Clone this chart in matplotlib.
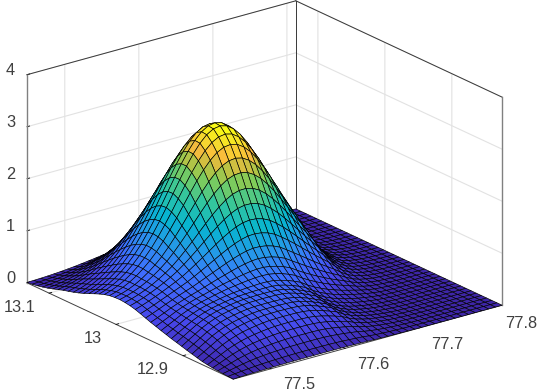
import numpy as np
import matplotlib
matplotlib.use("Agg")
import matplotlib.pyplot as plt
from matplotlib.colors import LinearSegmentedColormap
from mpl_toolkits.mplot3d import proj3d

x_ticks = [77.5, 77.6, 77.7, 77.8]
y_ticks = [12.9, 13.0, 13.1]
z_ticks = [0, 1, 2, 3, 4]
x_labels = ["77.5", "77.6", "77.7", "77.8"]
y_labels = ["12.9", "13", "13.1"]
z_labels = ["0", "1", "2", "3", "4"]
x_lim = (77.449, 77.812)
y_lim = (12.825, 13.133)
z_lim = (0, 4)

# Height profiles, 41 samples along each horizontal axis.
# Main hill, along x and along y (from high y to low y)
hill_x = [.039,.055,.077,.105,.141,.185,.237,.298,.368,.445,.527,.613,.698,.779,.852,.914,.961,.99,1,
          .99,.961,.914,.852,.779,.698,.613,.527,.445,.36,.26,.17,.11,.07,.04,.024,.013,.007,.003,.001,0,0]
hill_y = [.07,.11,.165,.24,.313,.395,.49,.59,.69,.785,.868,.935,.98,1,.995,.958,.907,.835,.75,.655,.561,.467,.38,.30,.232,
          .175,.13,.092,.065,.045,.03,.018,.012,.007,.004,.002,.001,0,0,0,0]
hill_height = 3.03
# Shoulder on the low-x side
shoulder_x = [1,.985,.96,.93,.89,.84,.775,.70,.63,.555,.475,.395,.32,.25,.185,.13,.09,.055,.03,.015,0]+[0]*20
shoulder_y = [0,.015,.04,.07,.11,.16,.215,.265,.30,.34,.395,.465,.55,.65,.75,.845,.92,.97,1,1,.98,.94,.875,.805,.73,.665,.59,
              .525,.45,.39,.325,.26,.20,.14,.085,.055,.03,.015,.01,.005,0]
shoulder_height = 0.42
# Apron on the low-y side
apron_x = [.05,.2,.35,.5,.62,.72,.8,.86,.91,.95,.98,.99,1,1,1,.985,.95,.885,.805,.71,.61,.45,.33,.24,.17,.12,.08,
           .05,.03,.015,.01]+[0]*10
apron_y = [0]*18+[.03,.07,.12,.17,.22,.27,.32,.37,.42,.46,.50,.53,.55,.55,.54,.52,.48,.42,.35,.27,.18,.09,.03]

Z = (hill_height*np.outer(hill_y, hill_x)
     + shoulder_height*np.outer(shoulder_y, shoulder_x)
     + np.outer(apron_y, apron_x))

parula = LinearSegmentedColormap.from_list("parula", [
 (0.0,(0.2422,0.1504,0.6603)),(0.125,(0.2803,0.2782,0.9221)),(0.25,(0.2440,0.4358,0.9988)),
 (0.375,(0.1540,0.5902,0.9218)),(0.5,(0.0297,0.7082,0.8163)),(0.625,(0.1938,0.7758,0.6251)),
 (0.75,(0.5044,0.7993,0.3480)),(0.8125,(0.74,0.76,0.26)),(0.875,(0.98,0.73,0.24)),
 (0.9375,(0.96,0.87,0.17)),(1.0,(0.9769,0.9839,0.0805))])

X, Y = np.meshgrid(np.linspace(*x_lim, Z.shape[1]), np.linspace(y_lim[1], y_lim[0], Z.shape[0]))

plt.rcParams['font.family'] = 'Liberation Sans'
W, H = 540, 392
fig = plt.figure(figsize=(W/100, H/100), dpi=100)
S_px = 513
ax = fig.add_axes([1.1/W, -61.4/H, S_px/W, S_px/H], projection='3d', proj_type='ortho', computed_zorder=False)
ax.set_box_aspect((1, 1, 0.658))
ax.view_init(elev=21, azim=-127.5)
ax.set_xlim(*x_lim, view_margin=0)
ax.set_ylim(*y_lim, view_margin=0)
ax.set_zlim(*z_lim, view_margin=0)
ax.patch.set_visible(False)

colors = parula((Z - Z.min())/(Z.max() - Z.min()))
ax.plot_surface(X, Y, Z, facecolors=colors, rcount=Z.shape[0], ccount=Z.shape[1], shade=False,
                edgecolor='black', linewidth=0.45, zorder=3)

for axis, ticks in ((ax.xaxis, x_ticks), (ax.yaxis, y_ticks), (ax.zaxis, z_ticks)):
    axis.set_ticks(ticks)
    axis.set_ticklabels([])
    axis.set_pane_color((1, 1, 1, 1))
    axis.pane.set_edgecolor('none')
    axis.line.set_color('#404040')
    axis.line.set_linewidth(0.7)
    axis._axinfo['grid'].update(color='#e2e2e2', linewidth=0.8)
    axis._axinfo['tick'].update(inward_factor=0, outward_factor=0.12, linewidth={True: 0.6, False: 0.6}, color='#404040')

xa, xb = x_lim; ya, yb = y_lim; za, zb = z_lim
for seg in [((xa, xb), (yb, yb), (zb, zb)), ((xb, xb), (yb, ya), (zb, zb)), ((xb, xb), (yb, yb), (za, zb))]:
    ax.plot(*seg, color='#383838', lw=0.7, zorder=2)
for seg in [((xa, xa), (yb, yb), (za, zb)), ((xb, xb), (ya, ya), (za, zb))]:
    ax.plot(*seg, color='#808080', lw=1.0, zorder=2)

def tick_label(pos, text, dx, dy, ha):
    px, py, _ = proj3d.proj_transform(*pos, ax.get_proj())
    ax.annotate(text, xy=(px, py), xytext=(dx, dy), textcoords='offset pixels', ha=ha, va='center',
                fontsize=11.8, color='#404040', annotation_clip=False)

for t, s in zip(x_ticks, x_labels):
    tick_label((t, ya, 0), s, 28, -16, 'center')
for t, s in zip(y_ticks, y_labels):
    tick_label((xa, t, 0), s, -14, -14, 'right')
for t, s in zip(z_ticks, z_labels):
    tick_label((xa, yb, t), s, -12, 4, 'right')

fig.savefig('out.png', dpi=100)
